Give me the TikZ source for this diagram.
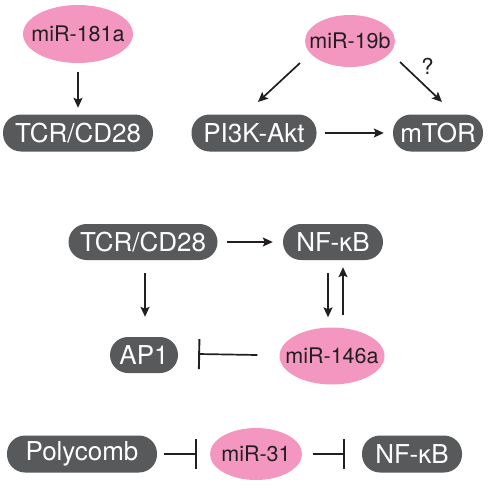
\documentclass[tikz,border=0pt]{standalone}
\usepackage{fontspec}
\setmainfont{TeX Gyre Heros}
\usetikzlibrary{arrows.meta,calc,shapes.geometric}
\definecolor{boxgray}{HTML}{58595B}
\definecolor{mirpink}{HTML}{F497C0}
\definecolor{txtdark}{HTML}{231F20}
\tikzset{
  gbox/.style={draw=none,fill=boxgray,rounded corners=18pt,minimum height=37pt,inner sep=0pt,text=white,font=\fontsize{26}{26}\selectfont},
  mir/.style={ellipse,fill=mirpink,inner xsep=-30pt,inner ysep=-20pt,text=txtdark,font=\fontsize{21.5}{22}\selectfont},
  arr/.style={line width=1.7pt,-{Stealth[length=10pt,width=9pt,inset=2pt]},draw=txtdark},
  inh/.style={line width=1.7pt,-{Bar[width=30pt,line width=1.9pt]},draw=txtdark},
}
\begin{document}
\begin{tikzpicture}[x=1pt,y=-1pt]
\useasboundingbox (0,0) rectangle (500,487);
% nodes
\node[mir,minimum width=110pt,minimum height=58pt] (m181) at (78,34) {miR-181a};
\node[gbox,minimum width=150pt] (tcr1) at (78,133) {TCR/CD28};
\node[mir,minimum width=90pt,minimum height=52pt] (m19) at (350,41) {miR-19b};
\node[gbox,minimum width=125pt] (pi3k) at (254,133) {PI3K-Akt};
\node[gbox,minimum width=90pt] (mtor) at (438,133) {mTOR};
\node[gbox,minimum width=149pt,minimum height=36pt] (tcr2) at (143,242) {TCR/CD28};
\node[gbox,minimum width=100pt,minimum height=36pt] (nfkb1) at (333,242) {NF-κB};
\node[gbox,minimum width=68pt,minimum height=36pt] (ap1) at (144,355) {AP1};
\node[mir,minimum width=105pt,minimum height=57pt] (m146) at (332,356) {miR-146a};
\node[gbox,minimum width=150pt] (poly) at (82,454) {Polycomb};
\node[mir,minimum width=92pt,minimum height=52pt] (m31) at (256,454) {miR-31};
\node[gbox,minimum width=100pt] (nfkb2) at (412,454) {NF-κB};
% connectors
\draw[arr] ($(m181.south)+(0,9)$) -- ($(tcr1.north)+(0,-6.5)$);
\draw[arr] ($(m19)+(-50,22)$) -- ($(pi3k)+(4,-31)$);
\draw[arr] ($(m19)+(50,21)$) -- node[pos=0.42,above right,inner sep=3pt,text=txtdark,font=\fontsize{22}{22}\selectfont] (q) {?} ($(mtor)+(4,-31)$);
\draw[arr,shorten <=8.5pt,shorten >=9pt] (pi3k.east) -- (mtor.west);
\draw[arr,shorten <=9.5pt,shorten >=10pt] (tcr2.east) -- (nfkb1.west);
\draw[arr] ($(tcr2.south)+(2,13)$) -- ($(ap1.north)+(1,-20)$);
\draw[arr] ($(nfkb1.south)+(-5,13)$) -- ($(m146.north)+(-4,-10)$);
\draw[arr] ($(m146.north)+(11,-12)$) -- ($(nfkb1.south)+(10,7)$);
\draw[inh] ($(m146.west)+(-22,-1)$) -- ($(ap1.east)+(20,-1)$);
\draw[inh] ($(poly.east)+(7,0)$) -- ($(m31.west)+(-13,0)$);
\draw[inh] ($(m31.east)+(11,0)$) -- ($(nfkb2.west)+(-17,0)$);
\end{tikzpicture}
\end{document}
